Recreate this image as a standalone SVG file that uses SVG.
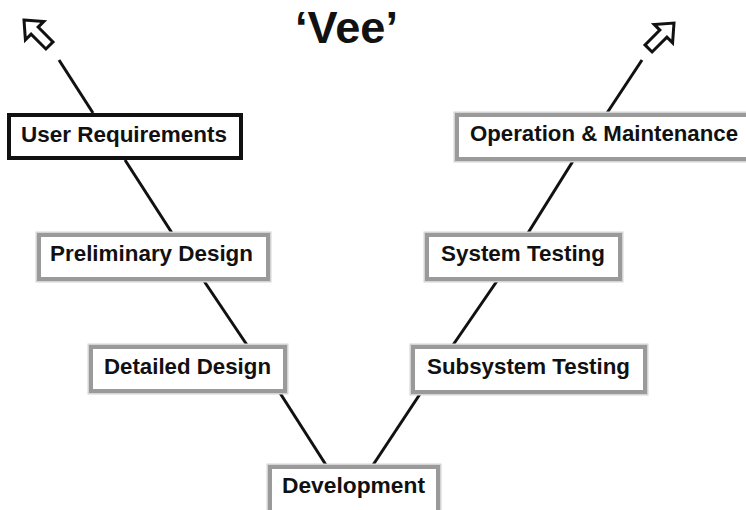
<svg xmlns="http://www.w3.org/2000/svg" xmlns:xlink="http://www.w3.org/1999/xlink" width="746" height="510" viewBox="0 0 746 510">
<style>
.box{fill:#fff;stroke:#9a9a9a;stroke-width:4}
.halo{fill:none;stroke:#d4d4d4;stroke-width:7}
.box.main{stroke:#111}
.lbl{font-family:"Liberation Sans",Arial,sans-serif;font-weight:bold;font-size:22px;fill:#111}
.title{font-family:"Liberation Sans",Arial,sans-serif;font-weight:bold;font-size:44px;fill:#111}
.conn{stroke:#111;stroke-width:3;fill:none;stroke-linecap:butt}
.arrow{fill:#fff;stroke:#111;stroke-width:3;stroke-linejoin:miter}
</style>
<defs>
<path id="blockArrow" d="M0,0 L15,-13 L15,-5 L36,-5 L36,5 L15,5 L15,13 Z"/>
</defs>
<rect width="746" height="510" fill="#fff"/>
<text class="title" x="295" y="43" textLength="103" lengthAdjust="spacingAndGlyphs">‘Vee’</text>
<g id="connectors">
<line class="conn" x1="59" y1="60" x2="93" y2="113"/>
<line class="conn" x1="125" y1="160" x2="172" y2="233"/>
<line class="conn" x1="204" y1="281" x2="247" y2="345"/>
<line class="conn" x1="280" y1="393" x2="326" y2="465"/>
<line class="conn" x1="373" y1="465" x2="420" y2="394"/>
<line class="conn" x1="453" y1="345" x2="497" y2="281"/>
<line class="conn" x1="528" y1="233" x2="573" y2="161"/>
<line class="conn" x1="607" y1="113" x2="642" y2="60"/>
<use xlink:href="#blockArrow" class="arrow" transform="translate(24,20) rotate(45)"/>
<use xlink:href="#blockArrow" class="arrow" transform="translate(674,23) rotate(135)"/>
</g>
<g id="user-requirements">
<rect class="box main" x="9" y="115" width="232" height="43"/>
<text class="lbl" x="21" y="142" textLength="206" lengthAdjust="spacingAndGlyphs">User Requirements</text>
</g>
<g id="operation-maintenance">
<rect class="halo" x="457" y="115" width="292" height="44"/>
<rect class="box" x="457" y="115" width="292" height="44"/>
<text class="lbl" x="470" y="141" textLength="268" lengthAdjust="spacingAndGlyphs">Operation &amp; Maintenance</text>
</g>
<g id="preliminary-design">
<rect class="halo" x="39" y="235" width="229" height="44"/>
<rect class="box" x="39" y="235" width="229" height="44"/>
<text class="lbl" x="50" y="261" textLength="203" lengthAdjust="spacingAndGlyphs">Preliminary Design</text>
</g>
<g id="system-testing">
<rect class="halo" x="427" y="235" width="193" height="44"/>
<rect class="box" x="427" y="235" width="193" height="44"/>
<text class="lbl" x="441" y="261" textLength="164" lengthAdjust="spacingAndGlyphs">System Testing</text>
</g>
<g id="detailed-design">
<rect class="halo" x="91" y="347" width="194" height="44"/>
<rect class="box" x="91" y="347" width="194" height="44"/>
<text class="lbl" x="104" y="374" textLength="167" lengthAdjust="spacingAndGlyphs">Detailed Design</text>
</g>
<g id="subsystem-testing">
<rect class="halo" x="413" y="347" width="232" height="45"/>
<rect class="box" x="413" y="347" width="232" height="45"/>
<text class="lbl" x="427" y="374" textLength="203" lengthAdjust="spacingAndGlyphs">Subsystem Testing</text>
</g>
<g id="development">
<rect class="halo" x="270" y="467" width="168" height="50"/>
<rect class="box" x="270" y="467" width="168" height="50"/>
<text class="lbl" x="282" y="493" textLength="143" lengthAdjust="spacingAndGlyphs">Development</text>
</g>
</svg>
